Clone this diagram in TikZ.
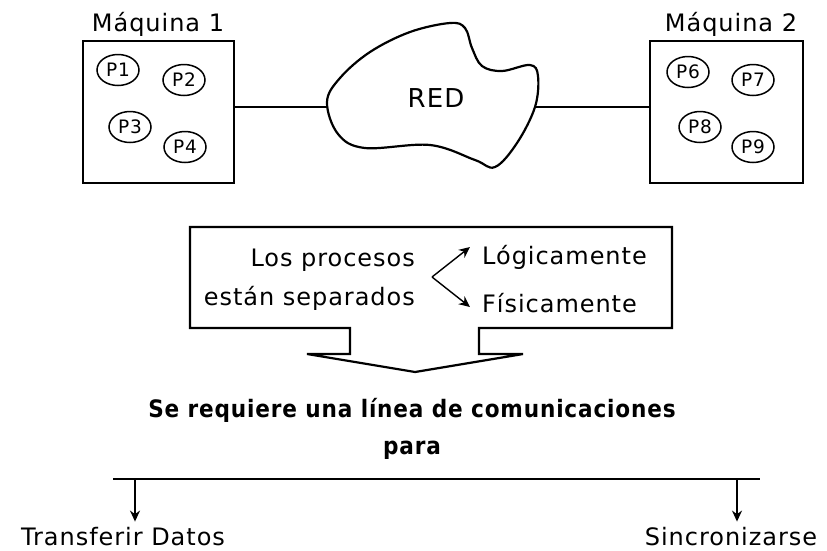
\documentclass[tikz,border=0pt]{standalone}
\usepackage{fontspec}
\setmainfont{DejaVu Sans}[LetterSpace=4]
\newfontfamily\headfont{DejaVu Sans Condensed}[LetterSpace=3.5]
\usetikzlibrary{shapes.geometric,arrows.meta,positioning}

\begin{document}
\begin{tikzpicture}[x=1pt, y=-1pt,
        machine/.style={rectangle, draw, line width=2.2pt, minimum height=142pt, inner sep=0pt},
        proc/.style={ellipse, draw, line width=1.5pt, minimum width=42pt, minimum height=31pt, inner sep=0pt, font=\fontsize{18.5}{20}\selectfont},
        label/.style={font=\fontsize{24}{28}\selectfont, inner sep=0pt},
        head/.style={font=\headfont\bfseries\fontsize{24}{28}\selectfont, inner sep=0pt},
        link/.style={line width=2.2pt},
        arrow/.style={-{Stealth[length=11pt, width=10pt]}, line width=1.7pt}
    ]
        \useasboundingbox (0,0) rectangle (827,550);

        % Machine 1
        \node[machine, minimum width=151pt] (m1) at (158.5,112) {};
        \node[label, anchor=base] (m1_title) at (158,31) {Máquina 1};
        \node[proc] (p1) at (118,70) {P1};
        \node[proc] (p2) at (184,80) {P2};
        \node[proc] (p3) at (130,127) {P3};
        \node[proc] (p4) at (185,147) {P4};

        % Machine 2
        \node[machine, minimum width=153pt] (m2) at (726.5,112) {};
        \node[label, anchor=base] (m2_title) at (731,31) {Máquina 2};
        \node[proc] (p6) at (688,72) {P6};
        \node[proc] (p7) at (753,80) {P7};
        \node[proc] (p8) at (700,127) {P8};
        \node[proc] (p9) at (753,147) {P9};

        % Network cloud
        \draw[link] plot[smooth cycle, tension=0.6] coordinates {
            (327,102) (340,78) (370,52) (410,32) (450,23) (465,28)
            (472,48) (482,66) (502,71) (530,65) (538,76) (535,107) (517,143)
            (495,167) (475,160) (430,145) (365,148) (338,134)};
        \node[font=\fontsize{26}{30}\selectfont, inner sep=0pt, anchor=base] (red) at (436,107) {RED};
        \coordinate (red_in) at (327,107);
        \coordinate (red_out) at (535,107);
        \draw[link] (red_in -| m1.east) -- (red_in);
        \draw[link] (red_out) -- (red_out -| m2.west);

        % Callout box
        \draw[link, line join=miter] (190,227) -- (672,227) -- (672,328) -- (479,328) -- (479,354)
            -- (523,354) -- (415,372) -- (307,354) -- (350,354) -- (350,328) -- (190,328) -- cycle;
        \node[label, anchor=base east] (los) at (415,266) {Los procesos};
        \node[label, anchor=base east] (sep) at (415,305) {están separados};
        \node[label, anchor=base west] (logico) at (482,264) {Lógicamente};
        \node[label, anchor=base west] (fisico) at (482,312) {Físicamente};
        \coordinate (fork) at (432,277);
        \coordinate (logico_tip) at (470,247);
        \coordinate (fisico_tip) at (470,307);
        \draw[arrow, line width=1.4pt] (fork) -- (logico_tip);
        \draw[arrow, line width=1.4pt] (fork) -- (fisico_tip);

        % Conclusion
        \node[head, anchor=base] (need) at (412,417) {Se requiere una línea de comunicaciones};
        \node[head, anchor=base] (para) at (412,454) {para};

        % Uses
        \coordinate (bus_l) at (113,479);
        \coordinate (bus_r) at (760,479);
        \draw[link] (bus_l) -- (bus_r);
        \node[label, anchor=base] (datos) at (123,545) {Transferir Datos};
        \node[label, anchor=base] (sinc) at (731,545) {Sincronizarse};
        \coordinate (tap_l) at (135,479);
        \coordinate (tap_r) at (737,479);
        \draw[arrow, shorten >=5pt] (tap_l) -- (tap_l |- datos.north);
        \draw[arrow, shorten >=5pt] (tap_r) -- (tap_r |- sinc.north);

    \end{tikzpicture}
\end{document}
